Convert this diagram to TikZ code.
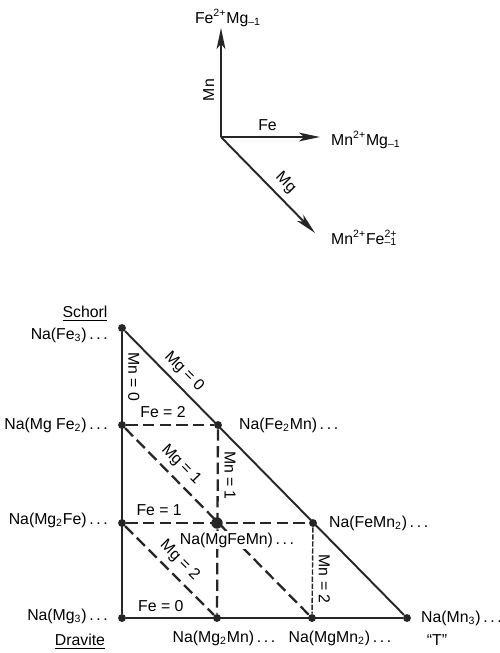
\documentclass[tikz,border=0pt]{standalone}
\usepackage{fontspec}
\setmainfont{Liberation Sans}
\usetikzlibrary{arrows.meta}
\newcommand{\nadots}{\,.\,.\,.}
\newcommand{\supsub}[2]{\makebox[0pt][l]{\textsuperscript{#1}}\textsubscript{#2}\hphantom{\textsuperscript{#1}}}

\tikzset{
    dot/.style={circle, fill=black!85, inner sep=0pt, minimum size=4.5pt},
    bigdot/.style={dot, minimum size=6.5pt},
    rim/.style={draw=black!85, line width=1.1pt},
    isoline/.style={draw=black!85, line width=1.3pt, dash pattern=on 6.5pt off 3pt},
    thinline/.style={draw=black!85, line width=0.8pt, dash pattern=on 3pt off 1pt},
    vec/.style={draw=black!85, line width=1.1pt, -{Stealth[length=12pt,width=5pt,inset=3pt]}},
}

\begin{document}
\begin{tikzpicture}[x=0.02cm, y=-0.02cm, font=\fontsize{9}{10}\selectfont]
    \useasboundingbox (0,0) rectangle (500,653);

    % exchange vectors
    \coordinate (o) at (221,137);
    \coordinate (mnTip) at (221,28);
    \coordinate (feTip) at (320,137);
    \coordinate (mgTip) at (315,233);
    \node (femg) at (228,18) {Fe\textsuperscript{2+}Mg\textsubscript{–1}};
    \node[anchor=west] (mnmg) at (325,140) {Mn\textsuperscript{2+}Mg\textsubscript{–1}};
    \node[anchor=west] (mnfe) at (325,238) {Mn\textsuperscript{2+}Fe\supsub{2+}{–1}};

    \draw[vec] (o) -- (mnTip) node[pos=0.43, rotate=90, anchor=south] {Mn};
    \draw[vec] (o) -- (feTip) node[pos=0.47, above] {Fe};
    \draw[vec] (o) -- (mgTip) node[pos=0.58, sloped, above] {Mg};

    % composition points
    \node[dot] (fe3) at (122,328) {};
    \node[dot] (mgfe2) at (122,425) {};
    \node[dot] (fe2mn) at (218,425) {};
    \node[dot] (mg2fe) at (122,523) {};
    \node[bigdot] (mgfemn) at (217,523) {};
    \node[dot] (femn2) at (313,523) {};
    \node[dot] (mg3) at (122,618) {};
    \node[dot] (mg2mn) at (217,618) {};
    \node[dot] (mgmn2) at (312,618) {};
    \node[dot] (mn3) at (407,618) {};

    % dashed isolines
    \draw[isoline] (mgfe2) -- (fe2mn) node[pos=0.42, above] {Fe = 2};
    \draw[isoline] (mg2fe) -- (femn2) node[pos=0.18, above] {Fe = 1};
    \draw[isoline] (fe2mn) -- (mg2mn) node[pos=0.25, rotate=-90, anchor=south] {Mn = 1};
    \draw[isoline] (mgfe2) -- (mgmn2) node[pos=0.25, sloped, above] {Mg = 1};
    \draw[isoline] (mg2fe) -- (mg2mn) node[midway, sloped, above] {Mg = 2};
    \draw[thinline] (femn2) -- (mgmn2) node[pos=0.6, rotate=-90, anchor=south] {Mn = 2};

    % triangle
    \draw[rim] (fe3) -- (mg3);
    \draw[rim] (mg3) -- (mn3);
    \draw[rim] (fe3) -- (mn3);
    \path (fe3) -- (mgfe2) node[midway, rotate=-90, anchor=south] {Mn = 0};
    \path (fe3) -- (fe2mn) node[pos=0.55, sloped, above] {Mg = 0};
    \path (mg3) -- (mg2mn) node[pos=0.4, above] {Fe = 0};

    % end members
    \node (schorl) at (85,314) {\underline{Schorl}};
    \node[anchor=east] (lfe3) at (114,335) {Na(Fe\textsubscript{3})\nadots};
    \node[anchor=east] (lmgfe2) at (114,425) {Na(Mg Fe\textsubscript{2})\nadots};
    \node[anchor=east] (lmg2fe) at (114,520) {Na(Mg\textsubscript{2}Fe)\nadots};
    \node[anchor=east] (lmg3) at (114,616) {Na(Mg\textsubscript{3})\nadots};
    \node (dravite) at (80,642) {\underline{Dravite}};
    \node[anchor=west] (lfe2mn) at (233,425) {Na(Fe\textsubscript{2}Mn)\nadots};
    \node[anchor=west] (lfemn2) at (323,523) {Na(FeMn\textsubscript{2})\nadots};
    \node[fill=white, inner sep=1pt] (lmgfemn) at (237,540) {Na(MgFeMn)\nadots};
    \node (lmg2mn) at (224,638) {Na(Mg\textsubscript{2}Mn)\nadots};
    \node (lmgmn2) at (340,638) {Na(MgMn\textsubscript{2})\nadots};
    \node[anchor=west] (lmn3) at (415,618) {Na(Mn\textsubscript{3})\nadots};
    \node (tname) at (437,640) {“T”};
\end{tikzpicture}
\end{document}
